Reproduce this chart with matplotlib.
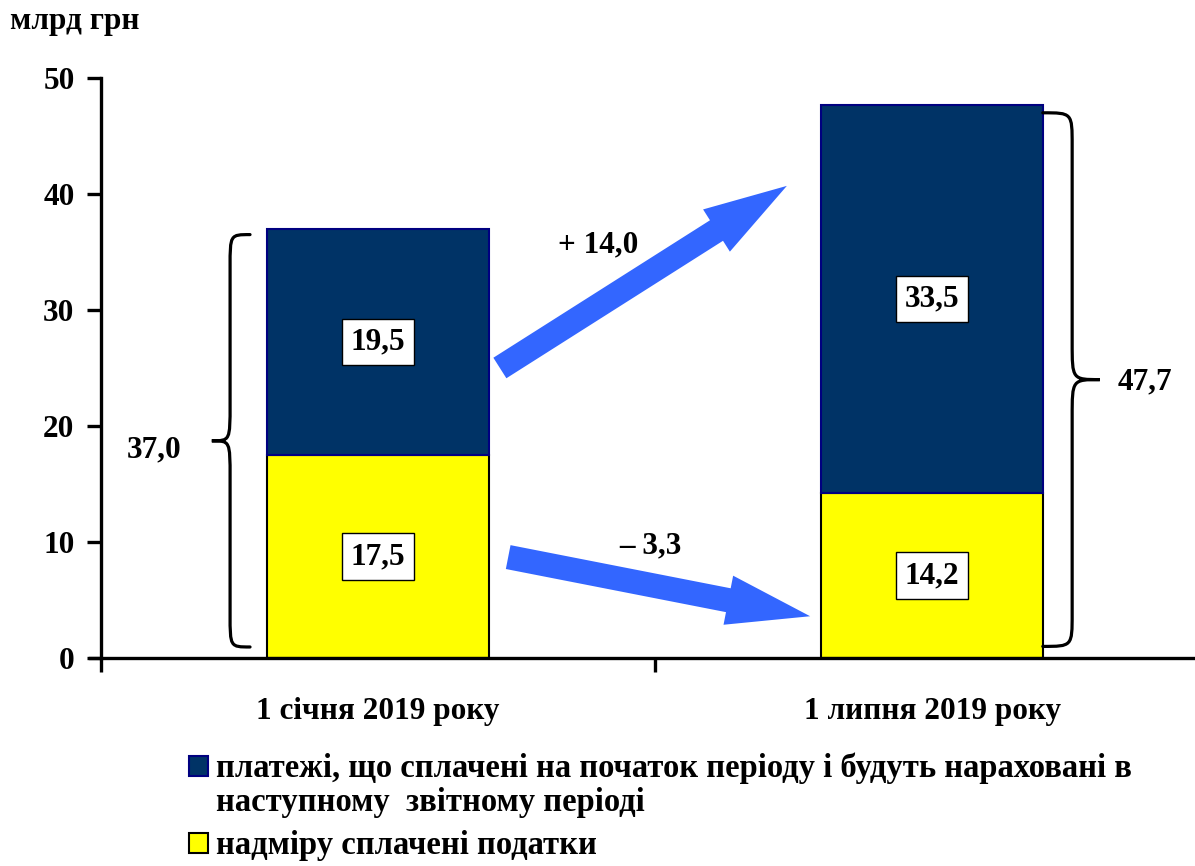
import matplotlib
matplotlib.use("Agg")
import matplotlib.pyplot as plt
from matplotlib.path import Path
from matplotlib.patches import PathPatch, FancyArrowPatch, Rectangle

# ---- data ----
categories = ["1 січня 2019 року", "1 липня 2019 року"]
overpaid = [17.5, 14.2]          # надміру сплачені податки
prepaid = [19.5, 33.5]           # платежі, що сплачені на початок періоду ...
totals = [37.0, 47.7]
change_prepaid = "+ 14,0"
change_overpaid = "– 3,3"
legend_labels = [
    "платежі, що сплачені на початок періоду і будуть нараховані в\nнаступному  звітному періоді",
    "надміру сплачені податки",
]
y_ticks = [0, 10, 20, 30, 40, 50]

def fmt(v):
    return f"{v:.1f}".replace(".", ",")

plt.rcParams['font.family'] = ['Liberation Serif', 'DejaVu Serif']
plt.rcParams['font.weight'] = 'bold'

C_DARK = "#003366"
C_YEL = "#FFFF00"
C_ARROW = "#3366FF"

fig = plt.figure(figsize=(11.95, 8.66), dpi=100)
ax = fig.add_axes([101/1195, 1-658/866, (1209-101)/1195, (658-78)/866])

x = list(range(len(categories)))
w = 0.4
ax.bar(x, overpaid, width=w, color=C_YEL, edgecolor="black", linewidth=1.5, zorder=3)
ax.bar(x, prepaid, width=w, bottom=overpaid, color=C_DARK, edgecolor="#000080", linewidth=1.5, zorder=3)

box = dict(boxstyle="square,pad=0.28", fc="white", ec="black", lw=1.0)
for i in x:
    ax.text(i, overpaid[i] / 2, fmt(overpaid[i]), ha="center", va="center",
            fontsize=22.5, fontweight="bold", bbox=box, zorder=5)
    ax.text(i, overpaid[i] + prepaid[i] / 2, fmt(prepaid[i]), ha="center", va="center",
            fontsize=22.5, fontweight="bold", bbox=box, zorder=5)

ax.set_xlim(-0.5, 1.5)
ax.set_ylim(0, 50)
ax.set_yticks(y_ticks)
ax.set_yticklabels([str(t) for t in y_ticks], fontsize=22.5, fontweight="bold")
ax.tick_params(axis="y", direction="out", length=10, width=2.4, pad=9)
ax.set_xticks(x)
ax.set_xticklabels(categories, fontsize=22.5, fontweight="bold")
ax.tick_params(axis="x", which="major", length=0, pad=28)
ax.set_xticks([-0.5, 0.5, 1.5], minor=True)
ax.tick_params(axis="x", which="minor", direction="out", length=10, width=2.4)
for s in ["top", "right"]:
    ax.spines[s].set_visible(False)
for s in ["left", "bottom"]:
    ax.spines[s].set_linewidth(2.4)
    ax.spines[s].set_zorder(4)
ax.spines["bottom"].set_bounds(-0.52, 1.5)

# ---- braces ----
def brace(xt, xs, xp, ytop, ybot, r1, r2):
    ym = (ytop + ybot) / 2
    verts = [
        (xt, ytop),
        (xs, ytop), (xs, ytop), (xs, ytop - r1),
        (xs, ym + r2),
        (xs, ym), (xs, ym), (xp, ym),
        (xs, ym), (xs, ym), (xs, ym - r2),
        (xs, ybot + r1),
        (xs, ybot), (xs, ybot), (xt, ybot),
    ]
    codes = [Path.MOVETO,
             Path.CURVE4, Path.CURVE4, Path.CURVE4,
             Path.LINETO,
             Path.CURVE4, Path.CURVE4, Path.CURVE4,
             Path.CURVE4, Path.CURVE4, Path.CURVE4,
             Path.LINETO,
             Path.CURVE4, Path.CURVE4, Path.CURVE4]
    return PathPatch(Path(verts, codes), fill=False, lw=2.3, ec="black",
                     capstyle="round", zorder=4, clip_on=False)

ax.add_patch(brace(-0.231, -0.267, -0.300, totals[0] - 0.5, 0.95, 2.8, 3.2))
ax.add_patch(brace(1.200, 1.253, 1.303, totals[1] - 0.7, 1.0, 2.8, 3.2))
ax.text(-0.404, 17.9, fmt(totals[0]), ha="center", va="center", fontsize=22.5, fontweight="bold")
ax.text(1.385, 23.8, fmt(totals[1]), ha="center", va="center", fontsize=22.5, fontweight="bold")

# ---- arrows ----
style = "simple,head_width=36,head_length=60,tail_width=17.5"
a1 = FancyArrowPatch((0.220, 25.0), (0.738, 40.7), arrowstyle=style, mutation_scale=1,
                     color=C_ARROW, lw=0, shrinkA=0, shrinkB=0, zorder=4)
a2 = FancyArrowPatch((0.235, 8.7), (0.780, 3.6), arrowstyle=style, mutation_scale=1,
                     color=C_ARROW, lw=0, shrinkA=0, shrinkB=0, zorder=4)
ax.add_patch(a1)
ax.add_patch(a2)
ax.text(0.397, 35.6, change_prepaid, ha="center", va="center", fontsize=22.5, fontweight="bold")
ax.text(0.491, 9.7, change_overpaid, ha="center", va="center", fontsize=22.5, fontweight="bold")

# ---- unit label ----
fig.text(10/1195, 1-22/866, "млрд грн", ha="left", va="center", fontsize=22.5, fontweight="bold")

# ---- legend (manual) ----
handles = [(C_DARK, "#000080"), (C_YEL, "black")]
leg_y = [1-766/866, 1-843/866]
for (fc, ec), lab, yy in zip(handles, legend_labels, leg_y):
    fig.patches.append(Rectangle((189/1195, yy - 10/866), 19/1195, 20/866,
                                 transform=fig.transFigure, fc=fc, ec=ec, lw=1.5))
    fig.text(216/1195, yy + 13/866, lab, ha="left", va="top", fontsize=23.5,
             fontweight="bold", linespacing=1.1)

fig.savefig("out.png", dpi=100)
